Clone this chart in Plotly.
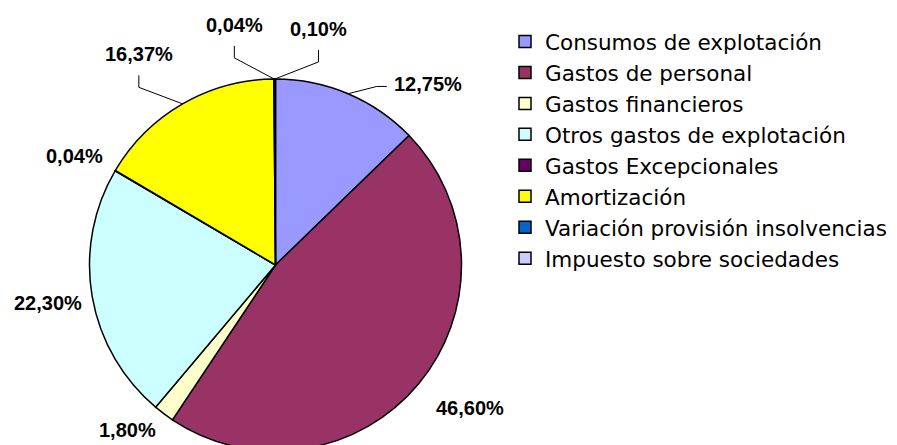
import math
import plotly.graph_objects as go

# ---- data ----
categories = [
    "Consumos de explotación",
    "Gastos de personal",
    "Gastos financieros",
    "Otros gastos de explotación",
    "Gastos Excepcionales",
    "Amortización",
    "Variación provisión insolvencias",
    "Impuesto sobre sociedades",
]
values = [12.75, 46.60, 1.80, 22.30, 0.04, 16.37, 0.04, 0.10]
colors = ["#9999FF", "#993366", "#FFFFCC", "#CCFFFF", "#660066", "#FFFF00", "#0066CC", "#CCCCFF"]

# label placement style (angle offset from slice middle in degrees, distance factor of radius, leader type)
label_angle_offset = [17.2, -3.5, 5.0, 0.2, -2.1, -3.0, -9.3, 10.5]
label_dist = [1.27, 1.30, 1.19, 1.24, 1.23, 1.35, 1.31, 1.29]
leader = ["side", "none", "none", "none", "none", "below", "below", "below"]

W, H = 897, 445
OFF = 8.0            # page body margin: screen = figure + OFF
R = 186.0
CX = 275.5 - OFF     # pie centre in figure pixels
CY = 265.0 - OFF

dom_x = [(CX - R) / W, (CX + R) / W]
dom_y = [1 - (CY + R) / H, 1 - (CY - R) / H]

fig = go.Figure()
fig.add_trace(go.Pie(
    labels=categories,
    values=values,
    sort=False,
    direction="clockwise",
    rotation=0,
    textinfo="none",
    marker=dict(colors=colors, line=dict(color="black", width=1.5)),
    domain=dict(x=dom_x, y=dom_y),
    showlegend=True,
))

total = sum(values)
cum = 0.0
annotations = []
shapes = []


def to_paper(px, py):
    return px / W, 1 - py / H


for i, v in enumerate(values):
    mid = (cum + v / 2) / total * 360.0
    cum += v
    la = math.radians(mid + label_angle_offset[i])
    tx = CX + label_dist[i] * R * math.sin(la)
    ty = CY - label_dist[i] * R * math.cos(la)
    txt = f"{v:.2f}".replace(".", ",") + "%"
    xp, yp = to_paper(tx, ty)
    annotations.append(dict(
        x=xp, y=yp, xref="paper", yref="paper", text=txt, showarrow=False,
        xanchor="center", yanchor="middle",
        font=dict(family="Arial, Liberation Sans, sans-serif", size=20, color="black", weight="bold"),
    ))
    ma = math.radians(mid)
    axp = CX + R * math.sin(ma)
    ayp = CY - R * math.cos(ma)
    pts = None
    if leader[i] == "side":
        pts = [(axp, ayp), (tx - 51, ty + 2), (tx - 41, ty + 2)]
    elif leader[i] == "below":
        pts = [(axp, ayp), (tx, ty + 33), (tx, ty + 21)]
    if pts:
        path = "M " + " L ".join(f"{to_paper(x, y)[0]:.5f},{to_paper(x, y)[1]:.5f}" for x, y in pts)
        shapes.append(dict(type="path", xref="paper", yref="paper", path=path,
                           line=dict(color="black", width=1)))

fig.update_layout(
    width=W, height=H,
    margin=dict(l=0, r=0, t=0, b=0),
    paper_bgcolor="white",
    plot_bgcolor="white",
    annotations=annotations,
    shapes=shapes,
    legend=dict(
        x=(545 - 40 - OFF) / W, xanchor="left",
        y=1 - (21 - OFF) / H, yanchor="top",
        font=dict(family="DejaVu Sans, Arial, sans-serif", size=21.5, color="black"),
        traceorder="normal",
        bgcolor="rgba(0,0,0,0)",
    ),
)

fig.write_html("out.html")
